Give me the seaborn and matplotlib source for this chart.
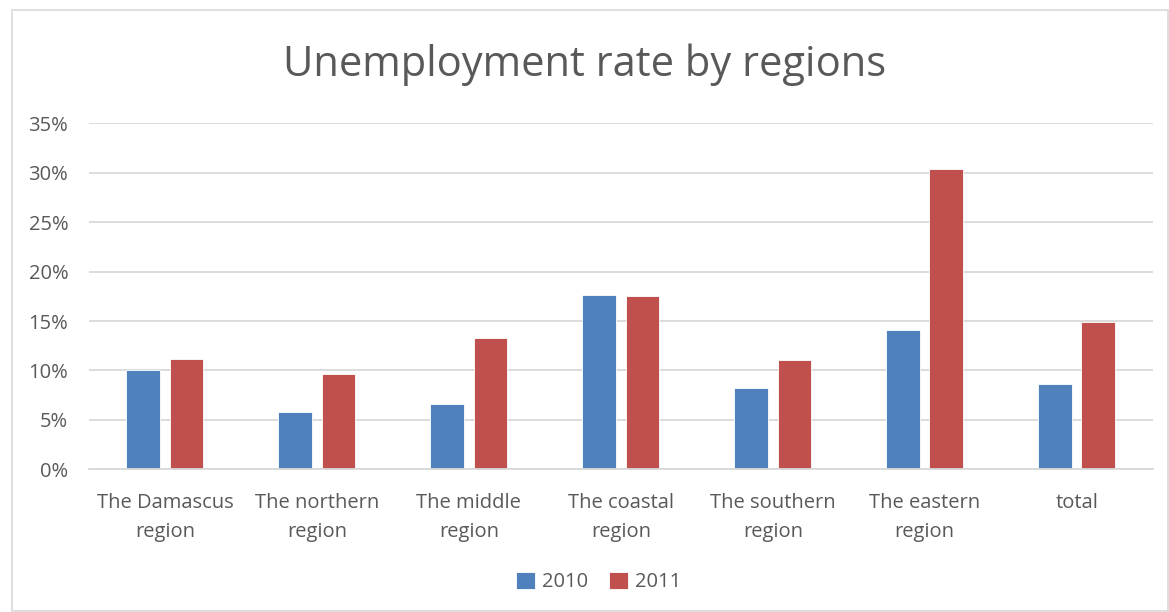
import matplotlib
matplotlib.use("Agg")
import matplotlib.pyplot as plt
from matplotlib.patches import Rectangle
from matplotlib.ticker import PercentFormatter
import seaborn as sns
import pandas as pd

regions = ["The Damascus\nregion", "The northern\nregion", "The middle\nregion",
           "The coastal\nregion", "The southern\nregion", "The eastern\nregion", "total"]
rate_2010 = [10.0, 5.8, 6.6, 17.6, 8.2, 14.1, 8.6]
rate_2011 = [11.2, 9.6, 13.3, 17.5, 11.1, 30.4, 14.9]
years = ["2010", "2011"]
colors = ["#4F81BD", "#C0504D"]

df = pd.DataFrame({
    "region": regions * 2,
    "year": [years[0]] * len(regions) + [years[1]] * len(regions),
    "rate": [v / 100 for v in rate_2010 + rate_2011],
})

sns.set_theme(style="white")
plt.rcParams["font.family"] = ["Open Sans", "DejaVu Sans"]
text_color = "#595959"

fig = plt.figure(figsize=(11.69, 6.12), dpi=100)
ax = fig.add_axes([0.0761, 0.2332, 0.9099, 0.5653])

sns.barplot(data=df, x="region", y="rate", hue="year", palette=colors,
            width=0.57, gap=0.22, ax=ax, edgecolor="white", linewidth=0.6,
            saturation=1, legend=True)

ax.set_ylim(0, 0.35)
ax.set_yticks([i * 0.05 for i in range(8)])
ax.yaxis.set_major_formatter(PercentFormatter(1.0, decimals=0))
ax.set_xlim(-0.5, len(regions) - 0.5)
ax.grid(axis="y", color="#D9D9D9", linewidth=1.3)
ax.set_axisbelow(True)
for side in ["left", "right", "top"]:
    ax.spines[side].set_visible(False)
ax.spines["bottom"].set_color("#D9D9D9")
ax.spines["bottom"].set_linewidth(1.3)
ax.tick_params(axis="both", length=0, labelsize=14.5, colors=text_color)
ax.tick_params(axis="x", pad=17)
ax.tick_params(axis="y", pad=15)
ax.set_xlabel("")
ax.set_ylabel("")
for lbl in ax.get_xticklabels():
    lbl.set_linespacing(1.6)

fig.text(0.5, 0.895, "Unemployment rate by regions", ha="center", va="center",
         fontsize=30, color=text_color)

handles, labels = ax.get_legend_handles_labels()
ax.legend_.remove()
fig.legend(handles, labels, loc="center", bbox_to_anchor=(0.512, 0.049), ncol=2,
           frameon=False, fontsize=14.5, labelcolor=text_color, handlelength=0.95,
           handleheight=0.95, handletextpad=0.35, columnspacing=1.0)

fig.add_artist(Rectangle((12 / 1169, 1 / 612), 1156 / 1169, 601 / 612,
                         transform=fig.transFigure, fill=False,
                         edgecolor="#D9D9D9", linewidth=1.2))

fig.savefig("out.png", dpi=100, facecolor="white")
